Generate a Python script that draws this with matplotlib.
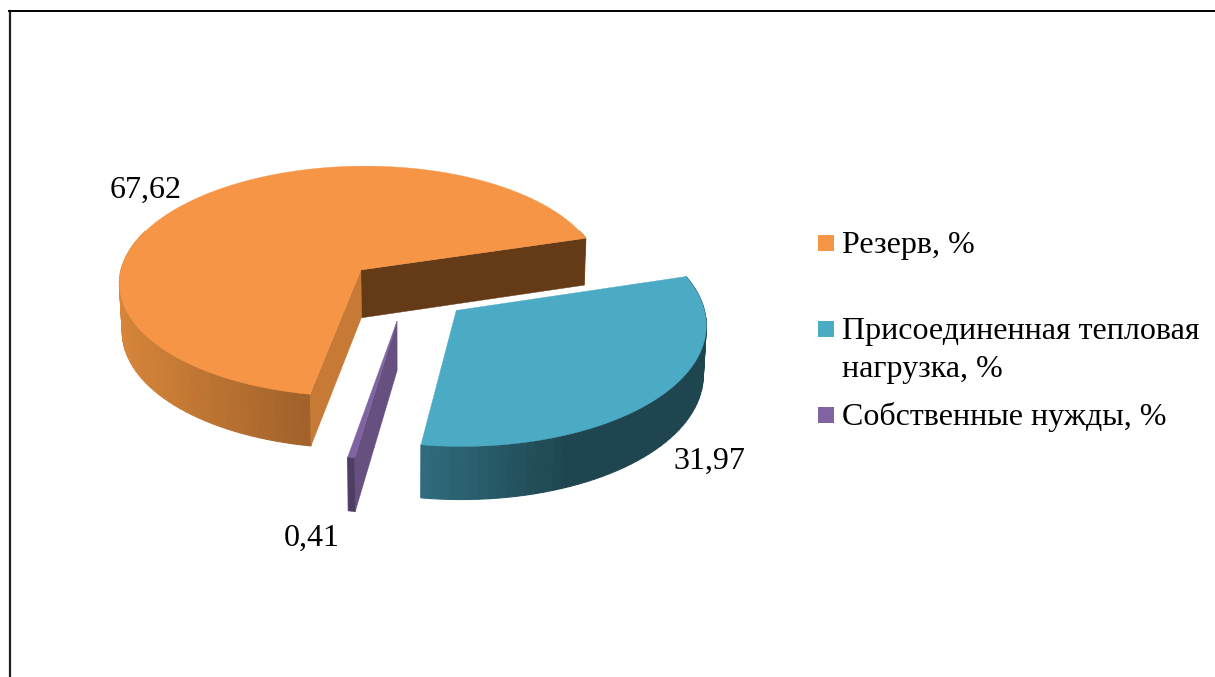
import matplotlib
matplotlib.use('Agg')
import matplotlib.pyplot as plt
from matplotlib.colors import LinearSegmentedColormap
from matplotlib.patches import Polygon, Rectangle
import numpy as np

plt.rcParams['font.family'] = ['Liberation Serif', 'DejaVu Serif']

categories = ['Резерв, %', 'Присоединенная тепловая\nнагрузка, %', 'Собственные нужды, %']
values = [67.62, 31.97, 0.41]
value_labels = ['67,62', '31,97', '0,41']

top_colors = ['#F69545', '#4BABC5', '#8064A2']
# цвета граней: срез в начале, срез в конце, боковина (слева - справа)
start_faces = ['#653A17', '#1F4650', '#66507F']
end_faces = ['#C67A36', '#2F6B7C', '#66507F']
side_colors = [['#D68539', '#9E602A'], ['#2F6B7C', '#1F4650', '#1F4650'], ['#4F3E63', '#4F3E63']]

# порядок секторов против часовой: резерв, нужды, присоединенная
draw_order = [0, 2, 1]
start_angle = 16.6
explode = 0.26

# параметры проекции
cx, cy = 407.5, 290
a, b = 244, 118
k = 0.1
m = 0.01
h = 49


def project(x, y, z=0.0):
    w = 1 + k * y + m * z
    return np.column_stack([cx + a * x / w, cy - b * y / w + h * z / w])


def area(p):
    x, y = p[:, 0], p[:, 1]
    return np.sum(x * np.roll(y, -1) - np.roll(x, -1) * y)


fig = plt.figure(figsize=(12.15, 6.77), dpi=100)
ax = fig.add_axes([0, 0, 1, 1])
ax.set_xlim(0, 1215)
ax.set_ylim(677, 0)
ax.axis('off')

ax.plot([9.5, 9.5], [10.5, 677], color='#202020', lw=1.6)
ax.plot([8.5, 1215], [10.5, 10.5], color='black', lw=1.4)

angle = start_angle
for i in draw_order:
    sweep = values[i] / sum(values) * 360
    t = np.radians(np.linspace(angle, angle + sweep, max(int(sweep / 2), 2) + 1))
    mid = np.radians(angle + sweep / 2)
    ox, oy = explode * np.cos(mid), explode * np.sin(mid)
    px = ox + np.cos(t)
    py = oy + np.sin(t)

    # боковина
    top = project(px, py)
    bottom = project(px, py, 1.0)
    cmap = LinearSegmentedColormap.from_list('side', side_colors[i])
    front = np.nonzero(np.sin(t) < 0.1)[0]
    xmin, xmax = top[front, 0].min(), top[front, 0].max()
    for j in range(len(t) - 1):
        if np.sin((t[j] + t[j + 1]) / 2) > 0.35:
            continue
        col = cmap(np.clip((top[j, 0] - xmin) / max(xmax - xmin, 1), 0, 1))
        strip = np.vstack([top[j], top[j + 1], bottom[j + 1], bottom[j]])
        ax.add_patch(Polygon(strip, closed=True, fc=col, ec=col, lw=0.8, zorder=2))

    # срезы, только те что видны
    for j, col, sign in [(0, start_faces[i], 1), (-1, end_faces[i], -1)]:
        face = np.vstack([project(np.array([ox, px[j]]), np.array([oy, py[j]])),
                          project(np.array([px[j], ox]), np.array([py[j], oy]), 1.0)])
        if area(face) * sign > 0:
            ax.add_patch(Polygon(face, closed=True, fc=col, ec=col, lw=0.3, zorder=3))

    # верх
    outline = np.vstack([project(np.array([ox]), np.array([oy])), top])
    ax.add_patch(Polygon(outline, closed=True, fc=top_colors[i], ec=top_colors[i], lw=0.3, zorder=4))
    angle += sweep

label_pos = [(146, 190), (709, 461), (312, 538)]
for txt, (x, y) in zip(value_labels, label_pos):
    ax.text(x, y, txt, fontsize=23, ha='center', va='center', color='black', zorder=5)

legend_y = [243, 329, 415]
for name, col, y in zip(categories, top_colors, legend_y):
    ax.add_patch(Rectangle((818, y - 8), 16, 16, fc=col, ec='none'))
    for n, line in enumerate(name.split('\n')):
        ax.text(842, y + 10.5 + 37 * n, line, fontsize=23, ha='left', va='baseline', color='black')

fig.savefig('out.png', dpi=100)
